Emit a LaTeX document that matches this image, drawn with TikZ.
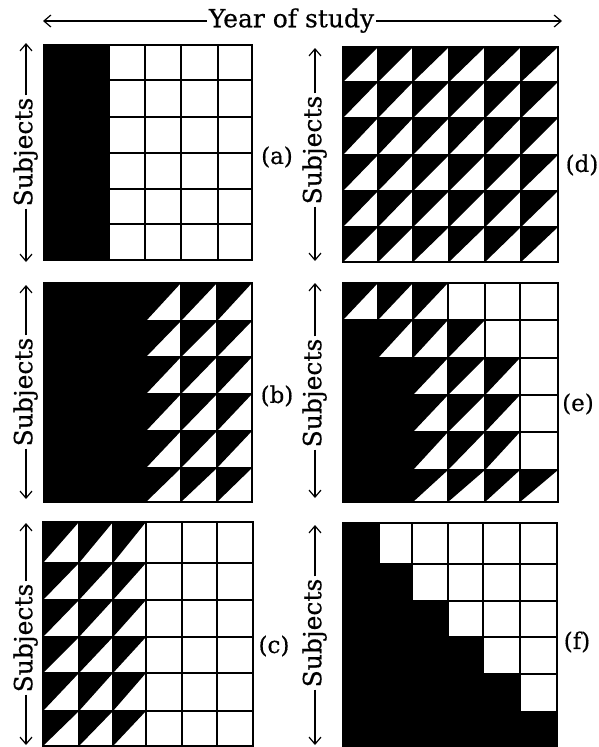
\documentclass[tikz,border=0pt]{standalone}
\usepackage{fontspec}
\setmainfont{DejaVu Serif}[FakeBold=0.4]
\usetikzlibrary{arrows.meta}
\tikzset{
  gridline/.style={line width=2pt, draw=black},
  panelbox/.style={draw=black, line width=2.8pt, inner sep=0pt, outer sep=0pt, fill=none},
  axisarrow/.style={line width=1.2pt, -{Straight Barb[length=7pt,width=12pt]}},
  axislabel/.style={font=\fontsize{25}{30}\selectfont, inner sep=2pt, text height=18.75pt, text depth=6.25pt},
  panellabel/.style={font=\fontsize{23}{27}\selectfont, inner sep=0pt},
}
% #1 name, #2 seven x boundaries, #3 seven y boundaries, #4 rows (0 white, 1 black, 2 half black)
\newcommand\drawpanel[4]{%
  \pgfmathsetmacro\pxl{{#2}[0]}%
  \pgfmathsetmacro\pxr{{#2}[6]}%
  \pgfmathsetmacro\pyt{{#3}[0]}%
  \pgfmathsetmacro\pyb{{#3}[6]}%
  \fill[white] (\pxl,\pyt) rectangle (\pxr,\pyb);
  \foreach \rowlist [count=\ri] in {#4} {
    \foreach \v [count=\ci] in \rowlist {
      \pgfmathsetmacro\xa{{#2}[\ci-1]}
      \pgfmathsetmacro\xb{{#2}[\ci]}
      \pgfmathsetmacro\ya{{#3}[\ri-1]}
      \pgfmathsetmacro\yb{{#3}[\ri]}
      \ifcase\v\relax
      \or \fill[black] (\xa,\ya) rectangle (\xb,\yb);
      \or \fill[black] (\xa,\ya) -- (\xb,\ya) -- (\xa,\yb) -- cycle;
      \fi
    }
  }
  \foreach \i in {1,...,5} {
    \pgfmathsetmacro\gx{{#2}[\i]}
    \pgfmathsetmacro\gy{{#3}[\i]}
    \draw[gridline] (\gx,\pyt) -- (\gx,\pyb);
    \draw[gridline] (\pxl,\gy) -- (\pxr,\gy);
  }
  \node[panelbox, minimum width={(\pxr-\pxl)*1pt}, minimum height={(\pyb-\pyt)*1pt}] (#1) at ({(\pxl+\pxr)/2},{(\pyt+\pyb)/2}) {};
}
\begin{document}
\begin{tikzpicture}[x=1pt,y=-1pt]
\useasboundingbox[fill=white] (0,0) rectangle (598,747);

% top axis
\node[axislabel] (year) at (291.5,21) {Year of study};
\coordinate (yl) at (43,21);
\coordinate (yr) at (562,21);
\draw[axisarrow] (year.west) -- (yl);
\draw[axisarrow] (year.east) -- (yr);

% panels
\drawpanel{pa}{44,76,109,145,181,218,252}{45,80,117,153,189,224,260}{{1,1,0,0,0,0},{1,1,0,0,0,0},{1,1,0,0,0,0},{1,1,0,0,0,0},{1,1,0,0,0,0},{1,1,0,0,0,0}}
\drawpanel{pb}{44,78,112,146,181,217,252}{283,321,357,394,431,468,502}{{1,1,1,2,2,2},{1,1,1,2,2,2},{1,1,1,2,2,2},{1,1,1,2,2,2},{1,1,1,2,2,2},{1,1,1,2,2,2}}
\drawpanel{pc}{43,79,113,146,182,217,253}{522,563,600,637,673,711,746}{{2,2,2,0,0,0},{2,2,2,0,0,0},{2,2,2,0,0,0},{2,2,2,0,0,0},{2,2,2,0,0,0},{2,2,2,0,0,0}}
\drawpanel{pd}{343,378,413,449,485,521,558}{47,82,118,155,191,227,262}{{2,2,2,2,2,2},{2,2,2,2,2,2},{2,2,2,2,2,2},{2,2,2,2,2,2},{2,2,2,2,2,2},{2,2,2,2,2,2}}
\drawpanel{pe}{343,378,413,448,485,520,558}{283,320,358,395,432,470,502}{{2,2,2,0,0,0},{1,2,2,2,0,0},{1,1,2,2,2,0},{1,1,2,2,2,0},{1,1,2,2,2,0},{1,1,2,2,2,2}}
\drawpanel{pf}{343,379,412,448,483,520,557}{523,564,601,637,674,712,746}{{1,0,0,0,0,0},{1,1,0,0,0,0},{1,1,1,0,0,0},{1,1,1,1,0,0},{1,1,1,1,1,0},{1,1,1,1,1,1}}

% panel labels
\node[panellabel] (la) at (277,157) {(a)};
\node[panellabel] (lb) at (277,396) {(b)};
\node[panellabel] (lc) at (274,646) {(c)};
\node[panellabel] (ld) at (582,165) {(d)};
\node[panellabel] (le) at (578,404) {(e)};
\node[panellabel] (lf) at (577,642) {(f)};

% subjects axes
\node[axislabel, rotate=90] (sa) at (26,152) {Subjects};
\coordinate (sat) at (26,43); \coordinate (sab) at (26,262);
\draw[axisarrow] (sa.east) -- (sat); \draw[axisarrow] (sa.west) -- (sab);

\node[axislabel, rotate=90] (sb) at (26,392) {Subjects};
\coordinate (sbt) at (26,285); \coordinate (sbb) at (26,499);
\draw[axisarrow] (sb.east) -- (sbt); \draw[axisarrow] (sb.west) -- (sbb);

\node[axislabel, rotate=90] (sc) at (26,638) {Subjects};
\coordinate (sct) at (26,523); \coordinate (scb) at (26,745);
\draw[axisarrow] (sc.east) -- (sct); \draw[axisarrow] (sc.west) -- (scb);

\node[axislabel, rotate=90] (sd) at (315,150) {Subjects};
\coordinate (sdt) at (315,48); \coordinate (sdb) at (315,261);
\draw[axisarrow] (sd.east) -- (sdt); \draw[axisarrow] (sd.west) -- (sdb);

\node[axislabel, rotate=90] (se) at (315,393) {Subjects};
\coordinate (set) at (315,283); \coordinate (seb) at (315,498);
\draw[axisarrow] (se.east) -- (set); \draw[axisarrow] (se.west) -- (seb);

\node[axislabel, rotate=90] (sf) at (315,633) {Subjects};
\coordinate (sft) at (315,525); \coordinate (sfb) at (315,745);
\draw[axisarrow] (sf.east) -- (sft); \draw[axisarrow] (sf.west) -- (sfb);
\end{tikzpicture}
\end{document}
